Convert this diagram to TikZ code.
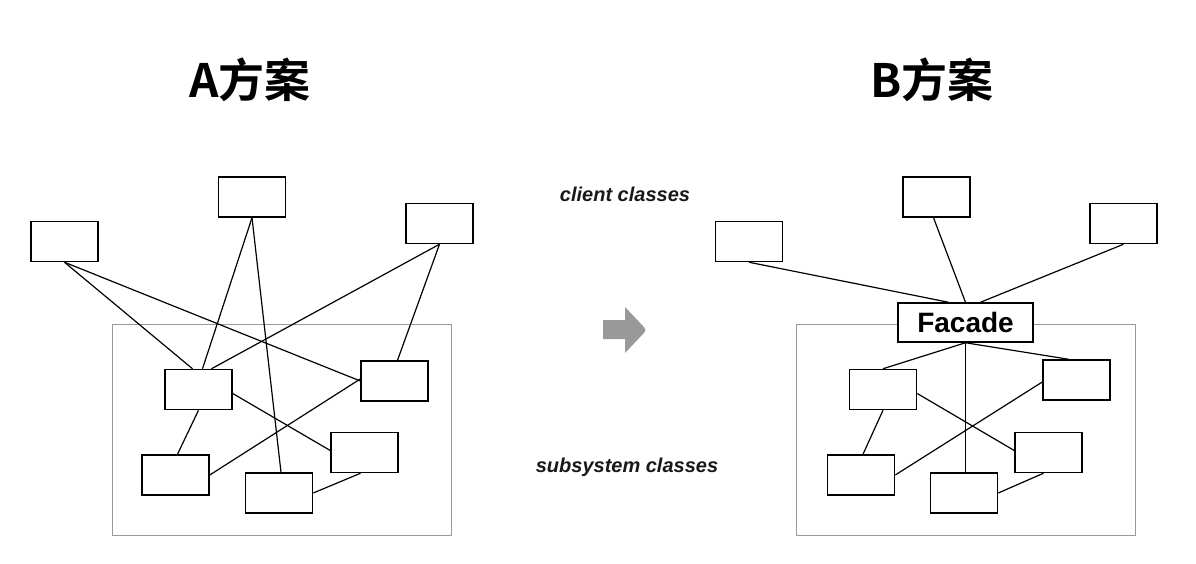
\documentclass[tikz,border=0pt]{standalone}
\usepackage{fontspec}
\setmainfont{Liberation Sans}
\newfontfamily\cjk{Noto Sans CJK SC}[BoldFont={Noto Sans CJK SC Bold}]

\begin{document}
\begin{tikzpicture}[x=1pt,y=-1pt,
  cls/.style={draw,line width=1.5pt,fill=white,minimum width=67pt,
    minimum height=40pt,inner sep=0pt},
  link/.style={line width=1.2pt},
  frame/.style={draw=black!40,line width=1pt},
  title/.style={font=\cjk\bfseries\fontsize{46}{50}\selectfont},
  role/.style={font=\bfseries\itshape\fontsize{20}{24}\selectfont,text=black!90}]
\useasboundingbox (0,0) rectangle (1196,564);
\node[title] (titleA) at (250,80) {A方案};
\node[title] (titleB) at (932,80) {B方案};
\node[role] (client) at (625,194) {client classes};
\node[role] (subsys) at (627,467) {subsystem classes};
\fill[black!40] (603,320) -- (625,320) -- (625,307) -- (643,326)
  .. controls (646,329) and (646,331) .. (643,334)
  -- (625,353) -- (625,339) -- (603,339) -- cycle;
\draw[frame] (112,324) rectangle (451,535);
\draw[frame] (796,324) rectangle (1135,535);
\node[cls] (L1) at (64.5,241.5) {};
\node[cls] (L2) at (252,197) {};
\node[cls] (L3) at (439.5,223.5) {};
\node[cls] (S1) at (198.5,389.5) {};
\node[cls] (S2) at (394.5,381) {};
\node[cls] (S3) at (364.5,452.5) {};
\node[cls] (S4) at (175.5,475) {};
\node[cls] (S5) at (279,493) {};
\draw[link] (L1.south) -- ([xshift=-6pt]S1.north);
\draw[link] (L1.south) -- (S2.west);
\draw[link] (L2.south) -- ([xshift=4pt]S1.north);
\draw[link] (L2.south) -- ([xshift=2pt]S5.north);
\draw[link] (L3.south) -- ([xshift=13pt]S1.north);
\draw[link] (L3.south) -- ([xshift=3pt]S2.north);
\draw[link] ([yshift=-4pt]S1.east) -- ([yshift=2pt]S3.west);
\draw[link] (S1.south) -- ([xshift=2pt]S4.north);
\draw[link] ([yshift=2pt]S2.west) -- (S4.east);
\draw[link] ([xshift=-4pt]S3.south) -- (S5.east);
\node[cls] (R1) at (749,241.5) {};
\node[cls] (R2) at (936.5,197) {};
\node[cls] (R3) at (1123.5,223.5) {};
\node[cls,minimum width=135pt,minimum height=39pt,
  font=\bfseries\fontsize{28}{32}\selectfont] (facade) at (965.5,322.5) {Facade};
\node[cls] (T1) at (883,389.5) {};
\node[cls] (T2) at (1076.5,380) {};
\node[cls] (T3) at (1048.5,452.5) {};
\node[cls] (T4) at (861,475) {};
\node[cls] (T5) at (964,493) {};
\draw[link] (R1.south) -- ([xshift=-17pt]facade.north);
\draw[link] ([xshift=-3pt]R2.south) -- (facade.north);
\draw[link] (R3.south) -- ([xshift=15pt]facade.north);
\draw[link] (facade.south) -- (T1.north);
\draw[link] (facade.south) -- ([xshift=-8pt]T2.north);
\draw[link] (facade.south) -- (facade.south |- T5.north);
\draw[link] ([yshift=-4pt]T1.east) -- ([yshift=2pt]T3.west);
\draw[link] (T1.south) -- ([xshift=2pt]T4.north);
\draw[link] ([yshift=-2pt]T2.west) -- (T4.east);
\draw[link] ([xshift=-5pt]T3.south) -- (T5.east);
\end{tikzpicture}
\end{document}
